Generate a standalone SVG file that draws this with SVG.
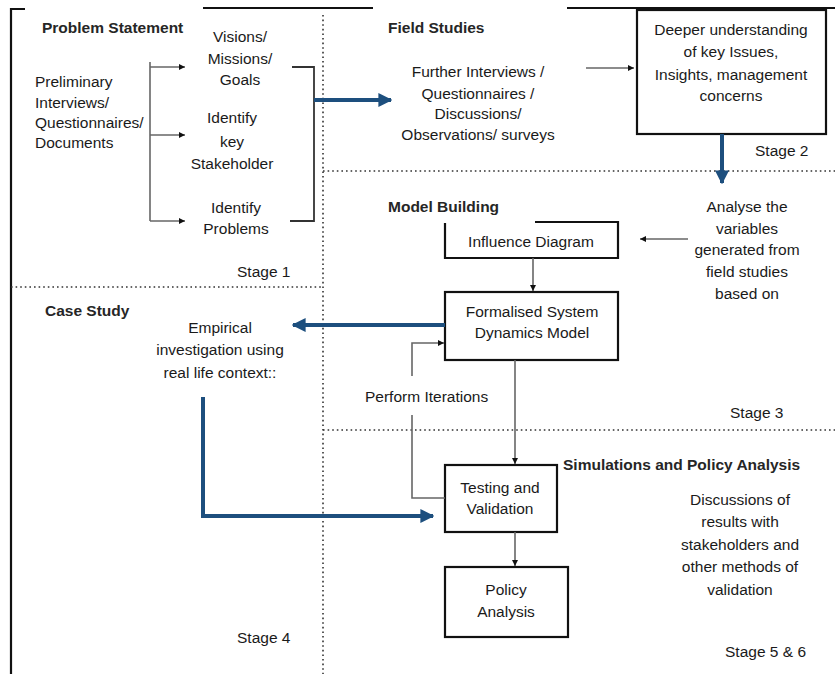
<svg xmlns="http://www.w3.org/2000/svg" width="835" height="674" viewBox="0 0 835 674">
  <style>
    .t { font-family: "Liberation Sans", Arial, sans-serif; font-size: 15.5px; fill: #1a1a1a; }
    .h { font-weight: bold; fill: #262626; }
    .c { text-anchor: middle; }
    .box { fill: none; stroke: #111; stroke-width: 2.2; }
    .frame { fill: none; stroke: #111; stroke-width: 2.2; }
    .dot { fill: none; stroke: #333; stroke-width: 1.6; stroke-dasharray: 1.6 3; }
    .thin { fill: none; stroke: #666; stroke-width: 1.6; }
    .blue { fill: none; stroke: #1d4f7e; stroke-width: 4; }
  </style>
  <defs>
    <marker id="ah" viewBox="0 0 10 10" refX="10" refY="5" markerWidth="6" markerHeight="6" markerUnits="userSpaceOnUse" orient="auto">
      <path d="M0,0 L10,5 L0,10 z" fill="#111"/>
    </marker>
    <marker id="ahb" viewBox="0 0 10 10" refX="9" refY="5" markerWidth="14" markerHeight="14" markerUnits="userSpaceOnUse" orient="auto">
      <path d="M0,0 L10,5 L0,10 z" fill="#1d4f7e"/>
    </marker>
  </defs>

  <rect width="835" height="674" fill="#ffffff"/>

  <!-- outer frame and stage separators -->
  <g id="frame">
    <path class="frame" d="M25,9 H11 V674"/>
    <path class="frame" d="M203,8 H373"/>
    <path class="frame" d="M567,8 H835"/>
    <path class="dot" d="M323,15 V674"/>
    <path class="dot" d="M11,287 H323"/>
    <path class="dot" d="M323,171 H835"/>
    <path class="dot" d="M323,430 H835"/>
  </g>

  <!-- Stage 1: problem statement -->
  <g id="problem-statement">
    <text class="t h" x="42" y="33">Problem Statement</text>
    <text class="t" x="35" y="87">Preliminary</text>
    <text class="t" x="35" y="108">Interviews/</text>
    <text class="t" x="35" y="128">Questionnaires/</text>
    <text class="t" x="35" y="148">Documents</text>
  </g>
  <g id="visions">
    <text class="t c" x="240" y="42">Visions/</text>
    <text class="t c" x="240" y="64">Missions/</text>
    <text class="t c" x="240" y="85">Goals</text>
  </g>
  <g id="stakeholder">
    <text class="t c" x="232" y="123">Identify</text>
    <text class="t c" x="232" y="147">key</text>
    <text class="t c" x="232" y="169">Stakeholder</text>
  </g>
  <g id="problems">
    <text class="t c" x="236" y="213">Identify</text>
    <text class="t c" x="236" y="234">Problems</text>
  </g>
  <g id="stage1"><text class="t" x="237" y="277">Stage 1</text></g>

  <!-- Stage 2: field studies -->
  <g id="field-studies">
    <text class="t h" x="388" y="33">Field Studies</text>
    <text class="t c" x="478" y="77">Further Interviews /</text>
    <text class="t c" x="478" y="99">Questionnaires /</text>
    <text class="t c" x="478" y="119">Discussions/</text>
    <text class="t c" x="478" y="140">Observations/ surveys</text>
  </g>
  <g id="deeper-understanding">
    <rect class="box" x="637" y="10" width="189" height="124"/>
    <text class="t c" x="731" y="35">Deeper understanding</text>
    <text class="t c" x="731" y="57">of  key Issues,</text>
    <text class="t c" x="731" y="80">Insights, management</text>
    <text class="t c" x="731" y="101">concerns</text>
  </g>
  <g id="stage2"><text class="t" x="755" y="156">Stage 2</text></g>

  <!-- Stage 3: model building -->
  <g id="model-building"><text class="t h" x="388" y="212">Model Building</text></g>
  <g id="influence-diagram">
    <path class="box" d="M445,223 V258 H618 V222 H535"/>
    <text class="t c" x="531" y="247">Influence Diagram</text>
  </g>
  <g id="analyse">
    <text class="t c" x="747" y="212">Analyse the</text>
    <text class="t c" x="747" y="234">variables</text>
    <text class="t c" x="747" y="255">generated from</text>
    <text class="t c" x="747" y="277">field studies</text>
    <text class="t c" x="747" y="299">based on</text>
  </g>
  <g id="formalised-model">
    <rect class="box" x="445" y="292" width="173" height="68"/>
    <text class="t c" x="532" y="317">Formalised System</text>
    <text class="t c" x="532" y="338">Dynamics Model</text>
  </g>
  <g id="perform-iterations"><text class="t" x="365" y="402">Perform Iterations</text></g>
  <g id="stage3"><text class="t" x="730" y="418">Stage 3</text></g>

  <!-- Stage 4: case study -->
  <g id="case-study">
    <text class="t h" x="45" y="316">Case Study</text>
    <text class="t c" x="220" y="333">Empirical</text>
    <text class="t c" x="220" y="355">investigation using</text>
    <text class="t c" x="220" y="378">real life context::</text>
  </g>
  <g id="stage4"><text class="t" x="237" y="643">Stage 4</text></g>

  <!-- Stages 5 and 6: simulations and policy analysis -->
  <g id="simulations"><text class="t h" x="563" y="470">Simulations and Policy Analysis</text></g>
  <g id="testing-validation">
    <rect class="box" x="445" y="465" width="112" height="67"/>
    <text class="t c" x="500" y="493">Testing and</text>
    <text class="t c" x="500" y="514">Validation</text>
  </g>
  <g id="discussions">
    <text class="t c" x="740" y="505">Discussions of</text>
    <text class="t c" x="740" y="527">results with</text>
    <text class="t c" x="740" y="550">stakeholders and</text>
    <text class="t c" x="740" y="572">other methods of</text>
    <text class="t c" x="740" y="595">validation</text>
  </g>
  <g id="policy-analysis">
    <rect class="box" x="445" y="567" width="123" height="70"/>
    <text class="t c" x="506" y="595">Policy</text>
    <text class="t c" x="506" y="617">Analysis</text>
  </g>
  <g id="stage56"><text class="t" x="725" y="657">Stage 5 &amp; 6</text></g>

  <!-- connectors -->
  <g id="connectors">
    <path class="thin" d="M150,62 V221"/>
    <path class="thin" d="M150,67 H185" marker-end="url(#ah)"/>
    <path class="thin" d="M150,135 H185" marker-end="url(#ah)"/>
    <path class="thin" d="M150,221 H185" marker-end="url(#ah)"/>
    <path class="frame" d="M292,67 H314 V221 H290" style="stroke:#333;stroke-width:1.8"/>
    <path class="blue" d="M314,100 H391" marker-end="url(#ahb)"/>
    <path class="thin" d="M586,68 H634" marker-end="url(#ah)"/>
    <path class="blue" d="M722,134 V183" marker-end="url(#ahb)"/>
    <path class="thin" d="M688,239 H640" marker-end="url(#ah)"/>
    <path class="thin" d="M533,258 V291" marker-end="url(#ah)"/>
    <path class="blue" d="M445,325 H293" marker-end="url(#ahb)"/>
    <path class="thin" d="M515,360 V464" marker-end="url(#ah)"/>
    <path class="thin" d="M445,498 H412 V415"/>
    <path class="thin" d="M412,376 V343 H444" marker-end="url(#ah)"/>
    <path class="blue" d="M203,397 V516 H433" marker-end="url(#ahb)"/>
    <path class="thin" d="M515,532 V566" marker-end="url(#ah)"/>
  </g>
</svg>
